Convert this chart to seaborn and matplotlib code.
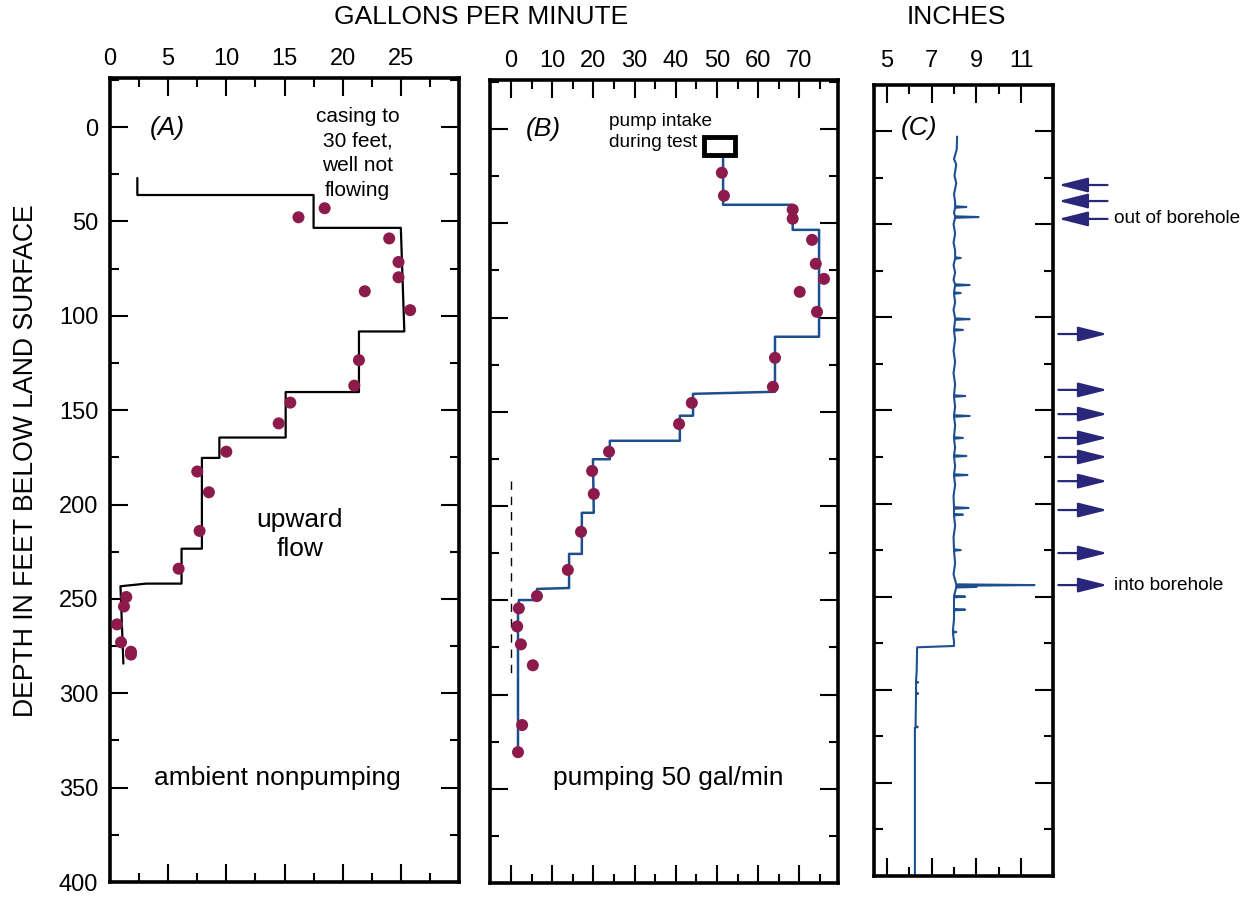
import numpy as np
import seaborn as sns
import matplotlib.pyplot as plt
from matplotlib.patches import Rectangle
from matplotlib.ticker import MultipleLocator, FixedLocator

# --- (A) ambient flow, gal/min vs depth (ft) ---
a_line_gpm = [2.35, 2.35, 17.5, 17.5, 25.0, 25.3, 21.4, 21.4, 15.1, 15.1, 9.4, 9.4,
              7.9, 7.9, 6.15, 6.15, 3.1, 0.9, 1.15]
a_line_depth = [27, 36, 36, 53.4, 53.4, 108.3, 108.3, 140.4, 140.4, 164.5, 164.5, 175.3,
                175.3, 223.4, 223.4, 241.9, 241.9, 243.3, 284.3]
a_pts_gpm = [18.45, 16.2, 24.0, 24.8, 24.8, 21.9, 25.8, 21.4, 21.0, 15.5, 14.5, 10.0,
             7.5, 8.5, 7.7, 5.9, 1.4, 1.2, 0.6, 0.95, 1.8, 1.8]
a_pts_depth = [43, 47.8, 59, 71.5, 79.6, 87, 97, 123.5, 137, 146, 157, 172,
               182.5, 193.5, 214, 234, 249, 254, 263.5, 273, 278, 279.5]

# --- (B) pumping 50 gal/min ---
b_line_gpm = [51.5, 51.5, 68.4, 68.4, 74.8, 74.8, 64.1, 64.1, 44.2, 44.2, 41.0, 41.0,
              24.0, 24.0, 19.9, 20.1, 17.2, 17.2, 14.1, 14.1, 6.3, 6.3, 1.9, 1.7, 1.7]
b_line_depth = [15.8, 40.2, 40.2, 53.5, 53.5, 110.2, 110.2, 139.4, 140.5, 152.1, 152.1, 165.4,
                165.4, 175.2, 175.2, 203.6, 203.6, 225.4, 225.4, 243.5, 244.0, 249.9, 249.9, 256.8, 331]
b_pts_gpm = [51.2, 51.7, 68.4, 68.4, 73.1, 74.0, 76.0, 70.1, 74.3, 64.1, 63.6, 43.9, 40.8,
             23.8, 19.7, 20.1, 17.0, 13.8, 6.3, 1.9, 1.5, 2.4, 5.3, 2.7, 1.7]
b_pts_depth = [23.2, 35.4, 42.8, 47.6, 58.8, 71.5, 79.5, 86.4, 97, 121.4, 136.8, 145.3, 156.5,
               171.2, 181.4, 193.6, 213.7, 233.9, 247.8, 254.3, 263.9, 273.4, 284.5, 316.2, 330.6]
b_zero_depth = [187, 291]
pump_gpm = [46.8, 54.4]
pump_depth = [4.1, 13.6]

# --- (C) caliper log, inches vs depth ---
cal_depth = [3, 10, 15, 18, 24, 28, 34, 38, 40.4, 40.8, 41.2, 44, 45.8, 46.2, 46.6, 50, 55, 60,
             64, 67.8, 68.2, 68.6, 72, 76, 80, 82.3, 82.7, 83.1, 86.6, 87, 87.4, 92, 96,
             100.6, 101, 101.4, 106.4, 106.8, 107.2, 112, 118, 124, 130, 136, 141.9, 142.3,
             142.7, 148, 152.6, 153, 153.4, 158, 164.4, 164.8, 165.2, 170, 174.1, 174.5,
             174.9, 180, 184.3, 184.7, 185.1, 190, 196, 202, 202.4, 202.8, 205.6, 206, 206.4,
             212, 218, 224.6, 225, 225.4, 232, 238, 243.4, 243.8, 244.2, 244.5, 244.8, 245.1,
             249.6, 250, 250.4, 256.6, 257, 257.4, 262, 268.6, 269, 269.4, 274, 276.5, 277.2,
             290, 295.6, 296, 296.4, 301.6, 302, 302.4, 319.6, 320, 320.4, 400]
cal_inches = [8.14, 8.12, 8.0, 8.1, 8.02, 8.1, 8.0, 8.05, 8.05, 8.55, 8.05, 8.0, 8.05, 9.1, 8.05,
              7.98, 8.05, 7.98, 8.05, 8.05, 8.3, 8.05, 7.98, 8.05, 7.98, 8.05, 8.7, 8.05, 8.0,
              8.3, 8.0, 8.05, 7.98, 8.05, 8.7, 8.05, 8.0, 8.4, 8.0, 8.05, 7.98, 8.05, 7.98,
              8.05, 8.0, 8.5, 8.0, 8.05, 8.0, 8.7, 8.0, 8.05, 8.0, 8.4, 8.0, 8.05, 8.0, 8.55,
              8.0, 8.05, 8.0, 8.6, 8.0, 8.05, 7.98, 8.0, 8.65, 8.0, 8.0, 8.4, 8.0, 8.05, 7.98,
              8.0, 8.3, 8.0, 8.05, 7.98, 8.1, 11.6, 8.1, 8.1, 9.0, 8.1, 8.0, 8.5, 8.0, 8.0, 8.5,
              8.0, 8.0, 7.95, 8.1, 7.95, 8.0, 8.0, 6.35, 6.33, 6.3, 6.4, 6.3, 6.3, 6.4, 6.3,
              6.28, 6.38, 6.25, 6.25]
out_arrow_depth = [29.0, 37.6, 47.2]
in_arrow_depth = [109, 139, 152, 164.8, 175, 188, 203.5, 226.6, 243.8]

dot_color = "#8c1b4c"
blue = "#1d4f8f"
navy = "#29277a"

sns.set_style("white")
plt.rcParams['font.family'] = ['Liberation Sans', 'DejaVu Sans']
plt.rcParams['text.color'] = 'black'
plt.rcParams['xtick.color'] = 'black'
plt.rcParams['ytick.color'] = 'black'
plt.rcParams['axes.labelcolor'] = 'black'

W, H = 1256, 897
fig = plt.figure(figsize=(W / 100, H / 100), dpi=100)


def box(l, t, r, b):
    return fig.add_axes([l / W, 1 - b / H, (r - l) / W, (b - t) / H])


ax_a = box(110, 78, 459, 882)
ax_b = box(490, 80, 838, 883)
ax_c = box(874, 85, 1053, 876)

for ax in (ax_a, ax_b, ax_c):
    for sp in ax.spines.values():
        sp.set_linewidth(2.6)
        sp.set_color("black")
    ax.tick_params(which='both', direction='in', top=True, bottom=True, left=True, right=True,
                   labeltop=True, labelbottom=False, labelleft=False, width=1.5,
                   labelsize=17, pad=6, colors='black')
    ax.tick_params(which='major', length=13)
    ax.tick_params(which='minor', length=6.5)
    ax.yaxis.set_major_locator(MultipleLocator(50))
    ax.yaxis.set_minor_locator(MultipleLocator(25))
    ax.set_xlabel("")
    ax.set_ylabel("")

# panel A
sns.lineplot(x=a_line_gpm, y=a_line_depth, sort=False, estimator=None, color="black", lw=1.6, ax=ax_a)
sns.scatterplot(x=a_pts_gpm, y=a_pts_depth, s=75, color=dot_color, edgecolor="none", ax=ax_a, zorder=3)
ax_a.set_xlim(0, 30)
ax_a.set_ylim(400, -26)
ax_a.xaxis.set_major_locator(FixedLocator([0, 5, 10, 15, 20, 25]))
ax_a.xaxis.set_minor_locator(MultipleLocator(2.5))
ax_a.tick_params(axis='y', labelleft=True, pad=8.5)
ax_a.text(4.9, 0.5, "(A)", fontsize=19, style='italic', ha='center', va='center')
ax_a.text(21.3, 13.8, "casing to\n30 feet,\nwell not\nflowing", fontsize=15, ha='center',
          va='center', linespacing=1.38)
ax_a.text(16.3, 215.8, "upward\nflow", fontsize=19, ha='center', va='center', linespacing=1.3)
ax_a.text(14.35, 345, "ambient nonpumping", fontsize=19, ha='center', va='center')

# panel B
sns.lineplot(x=b_line_gpm, y=b_line_depth, sort=False, estimator=None, color=blue, lw=1.8, ax=ax_b)
sns.scatterplot(x=b_pts_gpm, y=b_pts_depth, s=75, color=dot_color, edgecolor="none", ax=ax_b, zorder=3)
ax_b.plot([0, 0], b_zero_depth, color="black", lw=1.0, ls=(0, (6, 5)))
ax_b.add_patch(Rectangle((pump_gpm[0], pump_depth[0]), pump_gpm[1] - pump_gpm[0],
                         pump_depth[1] - pump_depth[0], facecolor="white", edgecolor="black",
                         lw=3.5, zorder=4))
ax_b.set_xlim(-5.1, 79.4)
ax_b.set_ylim(400, -26)
ax_b.xaxis.set_major_locator(FixedLocator([0, 10, 20, 30, 40, 50, 60, 70]))
ax_b.xaxis.set_minor_locator(FixedLocator([5, 15, 25, 35, 45, 55, 65, 75]))
ax_b.text(7.8, 0, "(B)", fontsize=19, style='italic', ha='center', va='center')
ax_b.text(23.8, -3.9, "pump intake", fontsize=13.7, ha='left', va='center')
ax_b.text(23.8, 7.3, "during test", fontsize=13.7, ha='left', va='center')
ax_b.text(38.3, 344.4, "pumping 50 gal/min", fontsize=19, ha='center', va='center')

# panel C
sns.lineplot(x=cal_inches, y=cal_depth, sort=False, estimator=None, color=blue, lw=1.5, ax=ax_c)
ax_c.set_xlim(4.42, 12.43)
ax_c.set_ylim(400, -24.7)
ax_c.xaxis.set_major_locator(FixedLocator([5, 7, 9, 11]))
ax_c.xaxis.set_minor_locator(FixedLocator([6, 8, 10]))
ax_c.tick_params(axis='x', pad=9.5)
ax_c.text(6.43, -1.6, "(C)", fontsize=19, style='italic', ha='center', va='center')

arrow_style = dict(arrowstyle="-|>,head_length=1.8,head_width=0.45", color=navy, lw=1.6,
                   shrinkA=0, shrinkB=0)
for d in out_arrow_depth:
    ax_c.annotate("", xy=(12.67, d), xytext=(14.87, d), arrowprops=arrow_style, annotation_clip=False)
for d in in_arrow_depth:
    ax_c.annotate("", xy=(14.87, d), xytext=(12.67, d), arrowprops=arrow_style, annotation_clip=False)
ax_c.text(15.18, out_arrow_depth[-1], "out of borehole", fontsize=13.7, ha='left', va='center', clip_on=False)
ax_c.text(15.18, in_arrow_depth[-1], "into borehole", fontsize=13.7, ha='left', va='center', clip_on=False)

fig.text(481 / W, 1 - 17 / H, "GALLONS PER MINUTE", fontsize=19, ha='center', va='center')
fig.text(956 / W, 1 - 17 / H, "INCHES", fontsize=19, ha='center', va='center')
fig.text(26 / W, 1 - 461 / H, "DEPTH IN FEET BELOW LAND SURFACE", fontsize=19.2, rotation=90,
         ha='center', va='center')

fig.savefig("out.png", dpi=100)
